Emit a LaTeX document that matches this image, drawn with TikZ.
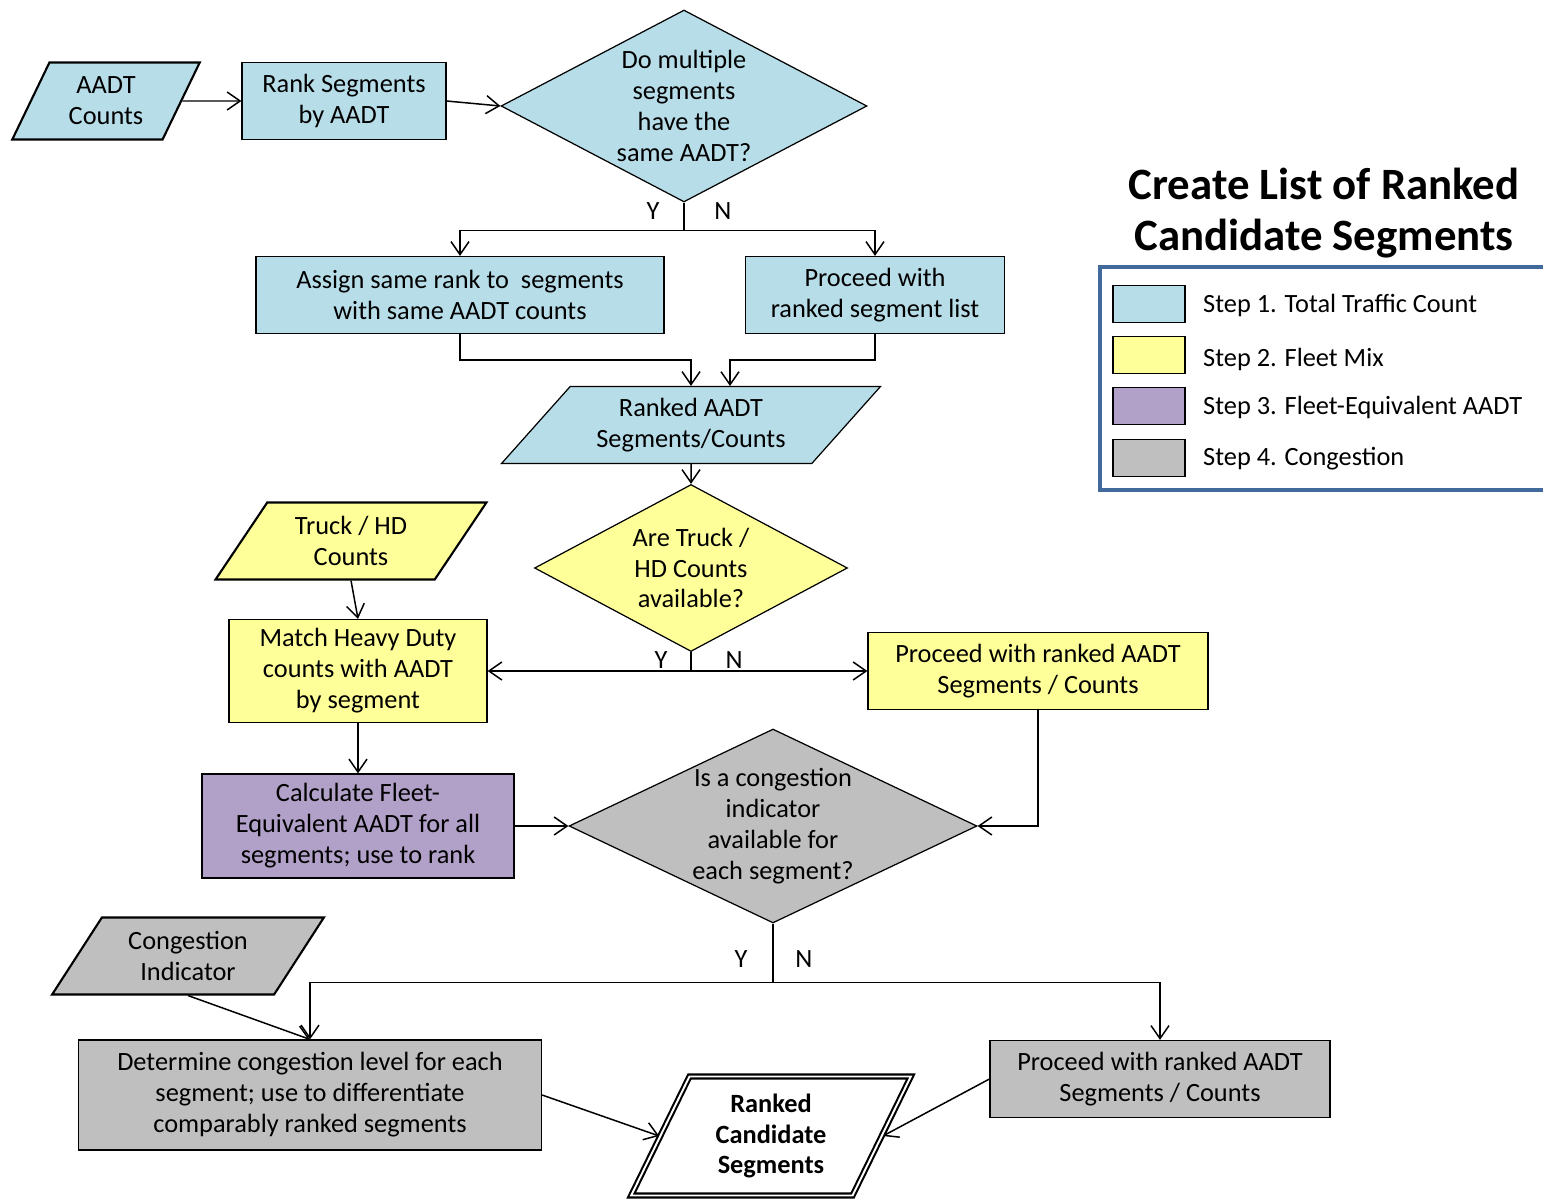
\documentclass[tikz,border=0pt]{standalone}
\usepackage{fontspec}
\setmainfont{Carlito}
\usetikzlibrary{shapes.geometric,arrows.meta}
\pgfdeclarelayer{bg}
\pgfsetlayers{bg,main}
\definecolor{stepblue}{HTML}{B7DDE8}
\definecolor{stepyellow}{HTML}{FFFF99}
\definecolor{steppurple}{HTML}{B1A0C7}
\definecolor{stepgray}{HTML}{BFBFBF}
\definecolor{legendframe}{HTML}{41699C}
\tikzset{
    box/.style={draw, rectangle, line width=0.7pt, inner sep=0pt, align=center},
    decision/.style={draw, diamond, line width=0.7pt, inner sep=0pt},
    dataio/.style={draw, trapezium, trapezium left angle=#1, trapezium right angle=180-#1,
        trapezium stretches=true, line width=1.2pt, inner sep=0pt, align=center},
    flow/.style={line width=0.85pt, -{Straight Barb[length=2.6mm, width=3.6mm]}},
    plainline/.style={line width=0.85pt},
    swatch/.style={draw, rectangle, line width=0.8pt, minimum width=1.44cm, minimum height=0.74cm},
}

\begin{document}
\begin{tikzpicture}[x=0.02cm, y=-0.02cm, font=\fontsize{15}{17.6}\selectfont]
    \useasboundingbox (0, 0) rectangle (1543, 1200);

    \node (aadt) [dataio=63, fill=stepblue, minimum width=3.76cm, minimum height=1.54cm] at (106, 101) {AADT\\Counts};
    \node (rank) [box, fill=stepblue, minimum width=4.08cm, minimum height=1.54cm] at (344, 101) {Rank Segments\\by AADT};
    \node (same) [decision, fill=stepblue, minimum width=7.32cm, minimum height=3.84cm,
        label={[align=center]center:Do multiple\\segments\\have the\\same AADT?}] at (684, 106) {};
    \node (assign) [box, fill=stepblue, minimum width=8.16cm, minimum height=1.54cm] at (460, 295) {Assign same rank to~ segments\\with same AADT counts};
    \node (proceed1) [box, fill=stepblue, minimum width=5.18cm, minimum height=1.54cm] at (875, 295) {Proceed with\\ranked segment list};
    \node (rankedcounts) [dataio=45, fill=stepblue, line width=0.7pt, minimum width=7.6cm, minimum height=1.54cm] at (691, 425) {Ranked AADT\\Segments/Counts};
    \coordinate (rcin) at (730, 386);

    \node (truck) [decision, fill=stepyellow, minimum width=6.26cm, minimum height=3.34cm,
        label={[align=center]center:Are Truck /\\HD Counts\\available?}] at (691, 568) {};
    \node (truckcounts) [dataio=55, fill=stepyellow, minimum width=5.42cm, minimum height=1.54cm] at (351, 541) {Truck / HD\\Counts};
    \node (match) [box, fill=stepyellow, minimum width=5.16cm, minimum height=2.06cm] at (358, 671) {Match Heavy Duty\\counts with AADT\\by segment};
    \node (proceed2) [box, fill=stepyellow, minimum width=6.8cm, minimum height=1.54cm] at (1038, 671) {Proceed with ranked AADT\\Segments / Counts};

    \node (fleet) [box, fill=steppurple, minimum width=6.24cm, minimum height=2.08cm] at (358, 826) {Calculate Fleet-\\Equivalent AADT for all\\segments; use to rank};
    \node (cong) [decision, fill=stepgray, minimum width=8.16cm, minimum height=3.88cm,
        label={[align=center]center:Is a congestion\\indicator\\available for\\each segment?}] at (773, 826) {};
    \node (congind) [dataio=55, fill=stepgray, minimum width=5.44cm, minimum height=1.54cm] at (188, 956) {Congestion\\Indicator};
    \node (determine) [box, fill=stepgray, minimum width=9.26cm, minimum height=2.2cm] at (310, 1095) {Determine congestion level for each\\segment; use to differentiate\\comparably ranked segments};
    \node (proceed3) [box, fill=stepgray, minimum width=6.8cm, minimum height=1.54cm] at (1160, 1079) {Proceed with ranked AADT\\Segments / Counts};
    \node (final) [dataio=65, fill=white, double, double distance=1.1pt, line width=1.2pt,
        minimum width=5.6cm, minimum height=2.38cm, font=\fontsize{15}{17.6}\selectfont\bfseries] at (771, 1136) {Ranked\\Candidate\\Segments};

    \node (y1) at (653, 211) {Y};
    \node (n1) at (723, 211) {N};
    \node (y2) at (661, 660) {Y};
    \node (n2) at (734, 660) {N};
    \node (y3) at (741, 959) {Y};
    \node (n3) at (804, 959) {N};

    \node (title) [align=center, font=\fontsize{25.5}{29}\selectfont\bfseries] at (1324, 213) {Create List of Ranked\\Candidate Segments};
    \node (legend) [draw=legendframe, line width=2pt, minimum width=9.2cm, minimum height=4.46cm] at (1330, 378.5) {};
    \node (sw1) [swatch, fill=stepblue] at (1149, 304) {};
    \node (sw2) [swatch, fill=stepyellow] at (1149, 355) {};
    \node (sw3) [swatch, fill=steppurple] at (1149, 406) {};
    \node (sw4) [swatch, fill=stepgray] at (1149, 458) {};
    \node (lt1) [anchor=west] at (1197, 305) {Step 1. Total Traffic Count};
    \node (lt2) [anchor=west] at (1197, 359) {Step 2. Fleet Mix};
    \node (lt3) [anchor=west] at (1197, 407) {Step 3. Fleet-Equivalent AADT};
    \node (lt4) [anchor=west] at (1197, 459) {Step 4. Congestion};

    \begin{pgfonlayer}{bg}
        \draw (aadt.east) edge[flow] (rank.west);
        \draw (rank.east) edge[flow] (same.west);
        \draw[plainline] (same.south) -- ++(0, 28) coordinate (split1);
        \draw[flow] (split1) -| (assign.north);
        \draw[flow] (split1) -| (proceed1.north);
        \draw[flow] (assign.south) -- ++(0, 26) -| (rankedcounts.north);
        \draw[flow] (proceed1.south) -- ++(0, 26) -| (rcin);
        \draw (rankedcounts.south) edge[flow] (truck.north);
        \draw (truckcounts.south) edge[flow] (match.north);
        \draw[plainline] (truck.south) -- (truck.south |- match.east) coordinate (split2);
        \draw[flow] (split2) -- (match.east);
        \draw[flow] (split2) -- (proceed2.west);
        \draw (match.south) edge[flow] (fleet.north);
        \draw (fleet.east) edge[flow] (cong.west);
        \draw[flow] (proceed2.south) |- (cong.east);
        \draw[plainline] (cong.south) -- ++(0, 59) coordinate (split3);
        \draw[flow] (split3) -| (determine.north);
        \draw[flow] (split3) -| (proceed3.north);
        \draw (congind.south) edge[flow] (determine.north);
        \draw (determine.east) edge[flow] (final.west);
        \draw (proceed3.west) edge[flow] (final.east);
    \end{pgfonlayer}
\end{tikzpicture}
\end{document}
